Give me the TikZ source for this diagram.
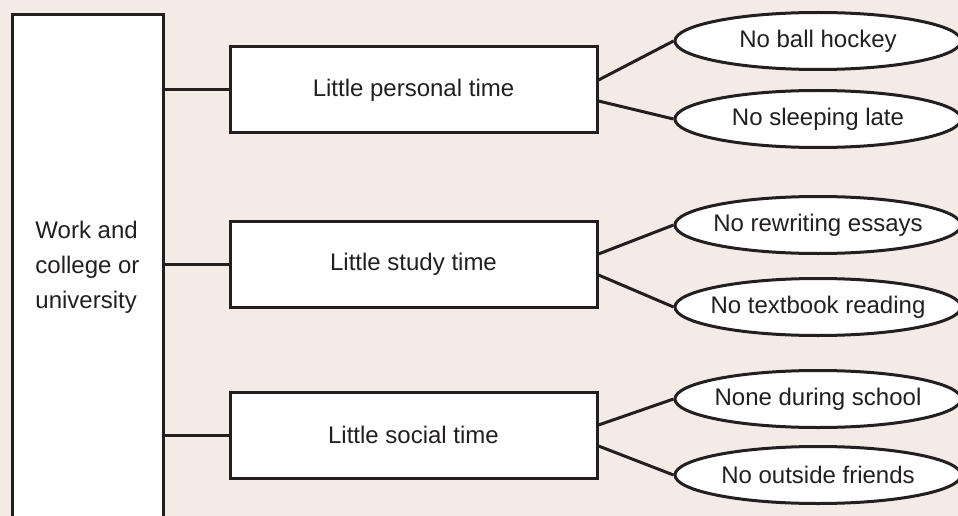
\documentclass[tikz,border=0pt]{standalone}
\usepackage{fontspec}
\setmainfont{Liberation Sans}
\usetikzlibrary{shapes.geometric}
\definecolor{paper}{RGB}{244,235,230}
\definecolor{ink}{RGB}{35,31,32}

\begin{document}
\begin{tikzpicture}[x=1pt, y=-1pt, line width=3pt,
  every node/.style={font=\fontsize{24}{35}\selectfont, text=ink},
  tallbox/.style={draw=ink, fill=white, minimum width=151pt, minimum height=505pt, align=left, inner sep=0pt},
  midbox/.style={draw=ink, fill=white, minimum width=367pt, minimum height=86pt},
  leaf/.style={ellipse, draw=ink, fill=white, minimum width=286pt, minimum height=57pt, inner xsep=-12pt, inner ysep=0pt},
  link/.style={draw=ink, line width=3pt}]

% --- page and background ---
\useasboundingbox (0,0) rectangle (958,516);
\clip (0,0) rectangle (958,516);
\fill[paper] (0,0) rectangle (958,516);

% --- layout helpers ---
\def\W{87.5}   % tall box x
\def\M{413.5}  % middle column x
\def\E{818}    % ellipse column x

% --- tall box on the left ---
\node[tallbox] (work) at (\W,267) {Work and\\college or\\university};

% --- a macro for each row: middle box, two ellipses, three links ---
\newcommand{\timerow}[7]{%
  % name, y, label, upper y, upper label, lower y, lower label
  \node[midbox] (#1) at (\M,#2) {#3};
  \node[leaf] (#1-a) at (\E,#4) {#5};
  \node[leaf] (#1-b) at (\E,#6) {#7};
  \draw[link] (work.east |- #1.west) -- (#1.west);
  \draw[link] ([yshift=10pt]#1.east) -- (#1-a.west);
  \draw[link] ([yshift=-11pt]#1.east) -- (#1-b.west);
}

% --- rows (top to bottom) ---
% personal
\timerow{personal}{90}{Little personal time}{41}{No ball hockey}{119}{No sleeping late}

% study
\timerow{study}{264}{Little study time}{225}{No rewriting essays}{307}{No textbook reading}

% social
\timerow{social}{435}{Little social time}{399}{None during school}{475}{No outside friends}

\end{tikzpicture}
\end{document}
